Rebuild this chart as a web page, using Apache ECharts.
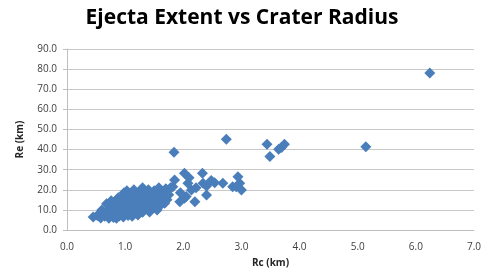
<!DOCTYPE html>
<html>
<head>
    <meta charset="utf-8">
    <script src="https://cdn.jsdelivr.net/npm/echarts@6/dist/echarts.min.js"></script>
    <style>
        html, body { margin: 0; padding: 0; background: #ffffff; }
        #chart { width: 484px; height: 279px; }
    </style>
</head>
<body>
    <div id="chart"></div>
    <script>
        // crater radius (km)
        var rc = [
            0.45, 0.52, 0.58, 0.62, 0.65, 0.68, 0.70, 0.72, 0.75, 0.78,
            0.80, 0.82, 0.85, 0.85, 0.88, 0.90, 0.92, 0.93, 0.95, 0.97,
            0.98, 1.00, 1.00, 1.02, 1.03, 1.05, 1.05, 1.08, 1.10, 1.10,
            1.12, 1.13, 1.15, 1.15, 1.18, 1.18, 1.20, 1.22, 1.22, 1.25,
            1.25, 1.28, 1.30, 1.30, 1.32, 1.35, 1.35, 1.38, 1.40, 1.40,
            1.42, 1.45, 1.45, 1.48, 1.50, 1.52, 1.55, 1.55, 1.58, 1.60,
            1.62, 1.65, 1.65, 1.68, 1.70, 1.72, 1.75, 1.78, 1.82, 1.85,
            1.84, 1.94, 1.95, 2.02, 2.02, 2.05, 2.08, 2.10, 2.14, 2.20,
            2.22, 2.33, 2.34, 2.40, 2.40, 2.48, 2.54, 2.68, 2.74, 2.85,
            2.91, 2.94, 2.97, 3.00, 3.44, 3.49, 3.64, 3.69, 3.74, 5.14,
            6.24, 0.60, 0.76, 0.88, 1.07, 1.27, 1.47, 1.57, 0.95, 1.36
        ];
        // ejecta extent (km)
        var re = [
            6.5, 7.2, 6.0, 8.3, 6.8, 13.0, 9.5, 5.8, 7.5, 11.0,
            6.2, 8.8, 12.5, 5.9, 10.2, 7.0, 15.5, 9.0, 12.0, 6.5,
            18.5, 8.0, 10.5, 14.0, 19.5, 7.2, 11.8, 16.5, 9.2, 13.5,
            6.8, 18.0, 11.0, 20.0, 8.5, 15.0, 12.5, 7.5, 17.0, 10.0,
            19.0, 14.0, 8.8, 21.0, 12.0, 16.0, 18.5, 10.5, 13.5, 20.0,
            9.0, 15.5, 17.5, 11.5, 19.5, 13.0, 10.0, 16.5, 21.0, 12.0,
            14.5, 18.0, 16.6, 13.3, 20.5, 15.0, 17.5, 21.0, 21.5, 24.9,
            38.6, 14.1, 18.5, 15.8, 28.2, 16.6, 23.2, 26.0, 19.9, 14.1,
            21.0, 28.2, 23.2, 17.4, 21.9, 24.6, 23.5, 23.2, 45.1, 21.5,
            21.5, 26.5, 23.2, 19.9, 42.6, 36.5, 40.1, 41.0, 42.6, 41.4,
            78.1, 10.0, 14.5, 16.0, 9.5, 9.8, 12.2, 18.8, 13.8, 14.8
        ];

        var points = rc.map(function (x, i) { return [x, re[i]]; });

        var chart = echarts.init(document.getElementById('chart'));

        var labelColor = '#404040';

        chart.setOption({
            animation: false,
            title: {
                text: 'Ejecta Extent vs Crater Radius',
                left: 'center',
                top: 3,
                textStyle: {
                    fontFamily: 'Open Sans',
                    fontSize: 21,
                    fontWeight: 'bold',
                    color: '#000000'
                }
            },
            grid: { left: 67, right: 9, top: 49, bottom: 49 },
            xAxis: {
                type: 'value',
                min: 0, max: 7, interval: 1,
                name: 'Rc (km)',
                nameLocation: 'middle',
                nameGap: 28,
                nameTextStyle: { fontFamily: 'Open Sans', fontSize: 10, fontWeight: 'bold', color: '#262626' },
                axisLine: { show: true, lineStyle: { color: '#bfbfbf', width: 1 } },
                axisTick: { show: false },
                splitLine: { show: false },
                axisLabel: {
                    margin: 12,
                    fontFamily: 'Open Sans', fontSize: 10, color: labelColor,
                    formatter: function (v) { return v.toFixed(1); }
                }
            },
            yAxis: {
                type: 'value',
                min: 0, max: 90, interval: 10,
                name: 'Re (km)',
                nameLocation: 'middle',
                nameGap: 42,
                nameTextStyle: { fontFamily: 'Open Sans', fontSize: 10, fontWeight: 'bold', color: '#262626' },
                axisLine: { show: true, lineStyle: { color: '#bfbfbf', width: 1 } },
                axisTick: { show: true, length: 4, lineStyle: { color: '#bfbfbf' } },
                splitLine: { show: true, lineStyle: { color: '#c8c8c8', width: 1 } },
                axisLabel: {
                    margin: 10,
                    fontFamily: 'Open Sans', fontSize: 10, color: labelColor,
                    formatter: function (v) { return v.toFixed(1); }
                }
            },
            series: [{
                type: 'scatter',
                symbol: 'diamond',
                symbolSize: 11,
                itemStyle: { color: '#4a7ebb', opacity: 1 },
                data: points
            }]
        });

        window.onresize = function () {
            chart.resize();
        };
    </script>
</body>
</html>
